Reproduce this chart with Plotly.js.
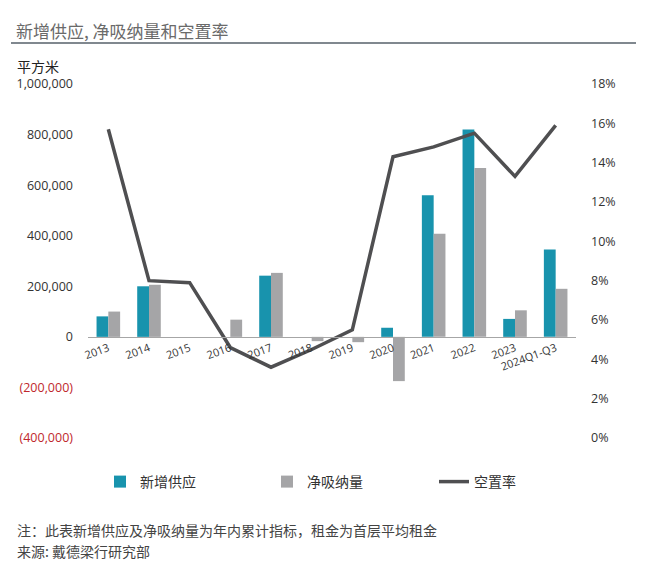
<!DOCTYPE html>
<html>
<head>
<meta charset="utf-8">
<script src="https://cdn.plot.ly/plotly-3.0.1.min.js"></script>
<style>html,body{margin:0;padding:0;background:#fff;}#chart{width:650px;height:571px;}</style>
</head>
<body>
<div id="chart"></div>
<script>
// ---- data ----
const categories = ['2013','2014','2015','2016','2017','2018','2019','2020','2021','2022','2023','2024Q1-Q3'];
const newSupply = [81000, 200000, null, null, 242000, null, null, 36000, 560000, 820000, 71000, 345000];
const netAbsorption = [100000, 206000, null, 68000, 253000, -17000, -21000, -175000, 408000, 668000, 105000, 190000];
const vacancyRate = [15.7, 8.0, 7.9, 4.6, 3.6, 4.5, 5.5, 14.3, 14.8, 15.5, 13.3, 15.9];
const leftTicks = [-400000, -200000, 0, 200000, 400000, 600000, 800000, 1000000];
const rightTicks = [0, 2, 4, 6, 8, 10, 12, 14, 16, 18];
const seriesNames = ['新增供应', '净吸纳量', '空置率'];
const titleText = '新增供应, 净吸纳量和空置率';
const unitText = '平方米';
const noteText = '注：此表新增供应及净吸纳量为年内累计指标，租金为首层平均租金';
const sourceText = '来源: 戴德梁行研究部';

// ---- layout helpers ----
const W = 650, H = 571;
const L = 88, R = 576, T = 84, B = 438;
const px = x => (x - L) / (R - L);
const py = y => (B - y) / (B - T);
const yMin = leftTicks[0], yMax = leftTicks[leftTicks.length - 1];

function fmt(v) {
  const s = Math.abs(v).toLocaleString('en-US');
  return v < 0 ? '<span style="color:#c0282d">(' + s + ')</span>' : s;
}

const cjk = '"Noto Sans CJK SC", "Noto Sans", sans-serif';
const num = '"Open Sans", "Noto Sans", sans-serif';

const traces = [
  {type: 'bar', name: seriesNames[0], x: categories, y: newSupply,
   marker: {color: '#1893ad'}, yaxis: 'y', legend: 'legend'},
  {type: 'bar', name: seriesNames[1], x: categories, y: netAbsorption,
   marker: {color: '#a5a5a7'}, yaxis: 'y', legend: 'legend2'},
  {type: 'scatter', mode: 'lines', name: seriesNames[2], x: categories, y: vacancyRate,
   line: {color: '#4f4f51', width: 3.5}, yaxis: 'y2', legend: 'legend3'}
];

const legendBase = {orientation: 'h', xref: 'container', yref: 'container',
  xanchor: 'left', y: 1 - 466 / H, yanchor: 'top',
  font: {family: cjk, size: 14, color: '#333'}, bgcolor: 'rgba(0,0,0,0)'};

const layout = {
  width: W, height: H,
  margin: {l: L, r: W - R, t: T, b: H - B, pad: 0},
  paper_bgcolor: '#ffffff', plot_bgcolor: '#ffffff',
  barmode: 'group', bargap: 0.42, bargroupgap: 0,
  showlegend: true,
  title: {text: titleText, xref: 'container', yref: 'container',
          x: 16 / W, xanchor: 'left', y: 1 - 32 / H, yanchor: 'middle',
          font: {family: cjk, size: 17, color: '#6a6a6a'}},
  xaxis: {type: 'category', anchor: 'free', position: (0 - yMin) / (yMax - yMin),
          range: [-0.5, categories.length - 0.5],
          showline: true, linecolor: '#a6a6a6', linewidth: 1,
          showgrid: false, zeroline: false, ticks: '', tickangle: -20,
          tickfont: {family: num, size: 11, color: '#333'}},
  yaxis: {range: [yMin, yMax], tickvals: leftTicks, ticktext: leftTicks.map(fmt),
          showgrid: false, zeroline: false, showline: false, ticks: '',
          ticklabelstandoff: 14,
          tickfont: {family: num, size: 12.5, color: '#333'}},
  yaxis2: {overlaying: 'y', side: 'right', range: [rightTicks[0], rightTicks[rightTicks.length - 1]],
           tickvals: rightTicks, ticktext: rightTicks.map(v => v + '%'),
           showgrid: false, zeroline: false, showline: false, ticks: '',
           ticklabelstandoff: 14,
           tickfont: {family: num, size: 12.5, color: '#333'}},
  legend: Object.assign({}, legendBase, {x: 100 / W}),
  legend2: Object.assign({}, legendBase, {x: 267 / W}),
  legend3: Object.assign({}, legendBase, {x: 434 / W}),
  shapes: [
    {type: 'line', xref: 'paper', yref: 'paper', x0: px(11), x1: px(636), y0: py(43), y1: py(43),
     line: {color: '#56606a', width: 1.5}}
  ],
  annotations: [
    {text: unitText, xref: 'paper', yref: 'paper', x: px(15), y: py(66), xanchor: 'left', yanchor: 'middle',
     showarrow: false, font: {family: cjk, size: 14, color: '#222'}},
    {text: noteText, xref: 'paper', yref: 'paper', x: px(15), y: py(530), xanchor: 'left', yanchor: 'middle',
     showarrow: false, font: {family: cjk, size: 14, color: '#444'}},
    {text: sourceText, xref: 'paper', yref: 'paper', x: px(15), y: py(551), xanchor: 'left', yanchor: 'middle',
     showarrow: false, font: {family: cjk, size: 14, color: '#444'}}
  ]
};

Plotly.newPlot('chart', traces, layout, {staticPlot: true, displayModeBar: false});
</script>
</body>
</html>
